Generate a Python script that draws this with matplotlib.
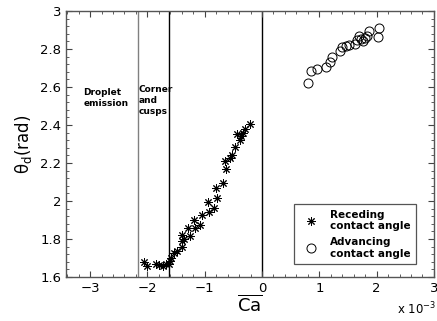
import numpy as np
import matplotlib
matplotlib.use('Agg')
import matplotlib.pyplot as plt
from matplotlib.ticker import MultipleLocator

# receding contact angle (Ca in units of 1e-3)
rec_ca = [-2.06, -2.00, -1.85, -1.80, -1.73, -1.67, -1.63, -1.61, -1.59, -1.53,
          -1.48, -1.40, -1.39, -1.40, -1.36, -1.29, -1.25, -1.18, -1.17, -1.08,
          -1.04, -0.95, -0.92, -0.83, -0.78, -0.81, -0.68, -0.63, -0.65, -0.56,
          -0.52, -0.47, -0.44, -0.39, -0.36, -0.33, -0.29, -0.21]
rec_theta = [1.68, 1.66, 1.667, 1.663, 1.66, 1.667, 1.67, 1.686, 1.70, 1.728,
             1.735, 1.76, 1.79, 1.82, 1.80, 1.856, 1.817, 1.90, 1.86, 1.874,
             1.925, 1.993, 1.94, 1.965, 2.017, 2.067, 2.096, 2.167, 2.21, 2.225,
             2.24, 2.286, 2.35, 2.32, 2.34, 2.36, 2.38, 2.405]

# advancing contact angle
adv_ca = [0.81, 0.86, 0.96, 1.12, 1.18, 1.23, 1.36, 1.40, 1.46, 1.51,
          1.63, 1.66, 1.69, 1.73, 1.77, 1.80, 1.84, 1.87, 2.02, 2.05]
adv_theta = [2.62, 2.684, 2.695, 2.704, 2.733, 2.76, 2.79, 2.81, 2.817, 2.82,
             2.824, 2.847, 2.868, 2.85, 2.84, 2.86, 2.867, 2.895, 2.865, 2.91]

# region boundaries
bounds = [-2.17, -1.63, 0.0]
bound_colors = ['#808080', 'black', 'black']

fig = plt.figure(figsize=(4.37, 3.21), dpi=100)
ax = fig.add_axes([0.151, 0.137, 0.842, 0.829])

for b, c in zip(bounds, bound_colors):
    ax.axvline(b, color=c, linewidth=1.0, zorder=1)

ax.plot(rec_ca, rec_theta, linestyle='none', marker=(8, 2, 0), markersize=6,
        markeredgewidth=0.7, color='black', label='Receding\ncontact angle')
ax.plot(adv_ca, adv_theta, linestyle='none', marker='o', markersize=6.5,
        markerfacecolor='none', markeredgecolor='black', markeredgewidth=0.7,
        label='Advancing\ncontact angle')

ax.set_xlim(-3.42, 3)
ax.set_ylim(1.6, 3)
ax.xaxis.set_major_locator(MultipleLocator(1))
ax.xaxis.set_minor_locator(MultipleLocator(0.2))
ax.yaxis.set_minor_locator(MultipleLocator(0.04))
ax.set_yticks([1.6, 1.8, 2, 2.2, 2.4, 2.6, 2.8, 3])
ax.set_yticklabels(['1.6', '1.8', '2', '2.2', '2.4', '2.6', '2.8', '3'])
ax.tick_params(which='both', direction='in', top=True, right=True,
               color='#444444', labelsize=9.5)
ax.tick_params(which='major', length=4, width=0.8)
ax.tick_params(which='minor', length=2, width=0.6)
for s in ax.spines.values():
    s.set_color('#555555')
    s.set_linewidth(1.0)

ax.text(-3.12, 2.54, 'Droplet\nemission', fontsize=6.5, fontweight='bold',
        va='center', ha='left', linespacing=1.3)
ax.text(-2.15, 2.53, 'Corner\nand\ncusps', fontsize=6.5, fontweight='bold',
        va='center', ha='left', linespacing=1.3)

ax.set_ylabel('θ$_\\mathrm{d}$(rad)', fontsize=12, labelpad=4)
ax.set_xlabel(r'$\overline{\mathrm{Ca}}$', fontsize=13, labelpad=0)
fig.text(0.998, 0.012, r'x 10$^{-3}$', fontsize=8.5, ha='right', va='bottom')

leg = ax.legend(loc='lower right', bbox_to_anchor=(0.965, 0.03),
                prop={'weight': 'bold', 'size': 7.5},
                fancybox=False, framealpha=1, edgecolor='#555555',
                handlelength=2.4, borderpad=0.5, labelspacing=0.55,
                handletextpad=0.6)
leg.get_frame().set_linewidth(0.9)

fig.savefig('out.png', dpi=100)
